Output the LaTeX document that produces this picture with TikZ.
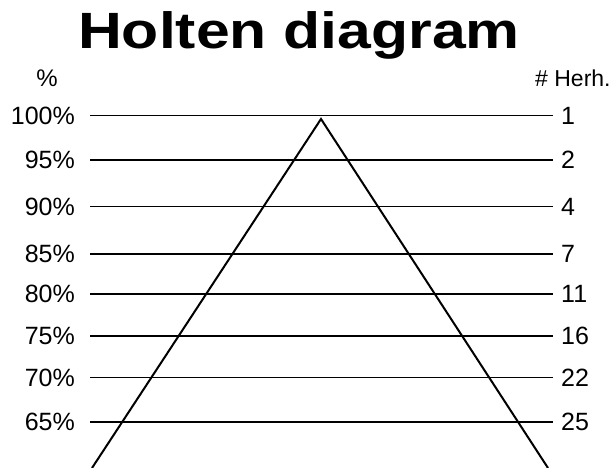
\documentclass[tikz,border=0pt]{standalone}
\usepackage{fontspec}
\setmainfont{Liberation Sans}

\begin{document}
\begin{tikzpicture}[x=1pt,y=1pt,
    lbl/.style={inner sep=0pt, font=\fontsize{25}{30}\selectfont},
    level/.style={black, line width=1.1pt},
    side/.style={black, line width=2pt}]
				\useasboundingbox (0,0) rectangle (616,468);
				\node[anchor=base, inner sep=0pt, font=\bfseries\fontsize{51}{60}\selectfont] (title) at (299,419) {\scalebox{1.19}[1]{Holten diagram}};
				\node[lbl, font=\fontsize{24}{28}\selectfont] (pct) at (47,390) {\%};
				\node[lbl, anchor=west, font=\fontsize{23}{28}\selectfont] (herh) at (535,390) {\# Herh.};
				\foreach \y/\p/\n [count=\i] in {352.5/100/1, 308/95/2, 261.5/90/4, 214/85/7, 174/80/11, 132/75/16, 90.5/70/22, 46/65/25} {
					\node[lbl, anchor=east] (p\i) at (75,\y) {\p\%};
					\node[lbl, anchor=west] (n\i) at (561,\y) {\n};
					\coordinate (l\i) at (90,\y);
					\coordinate (r\i) at (553,\y);
					\draw[level] (l\i) -- (r\i);
				}
				\coordinate (apex) at (321,349);
				\coordinate (lfoot) at (92,0);
				\coordinate (rfoot) at (548,0);
				\draw[side] (lfoot) -- (apex) -- (rfoot);
			\end{tikzpicture}
\end{document}
